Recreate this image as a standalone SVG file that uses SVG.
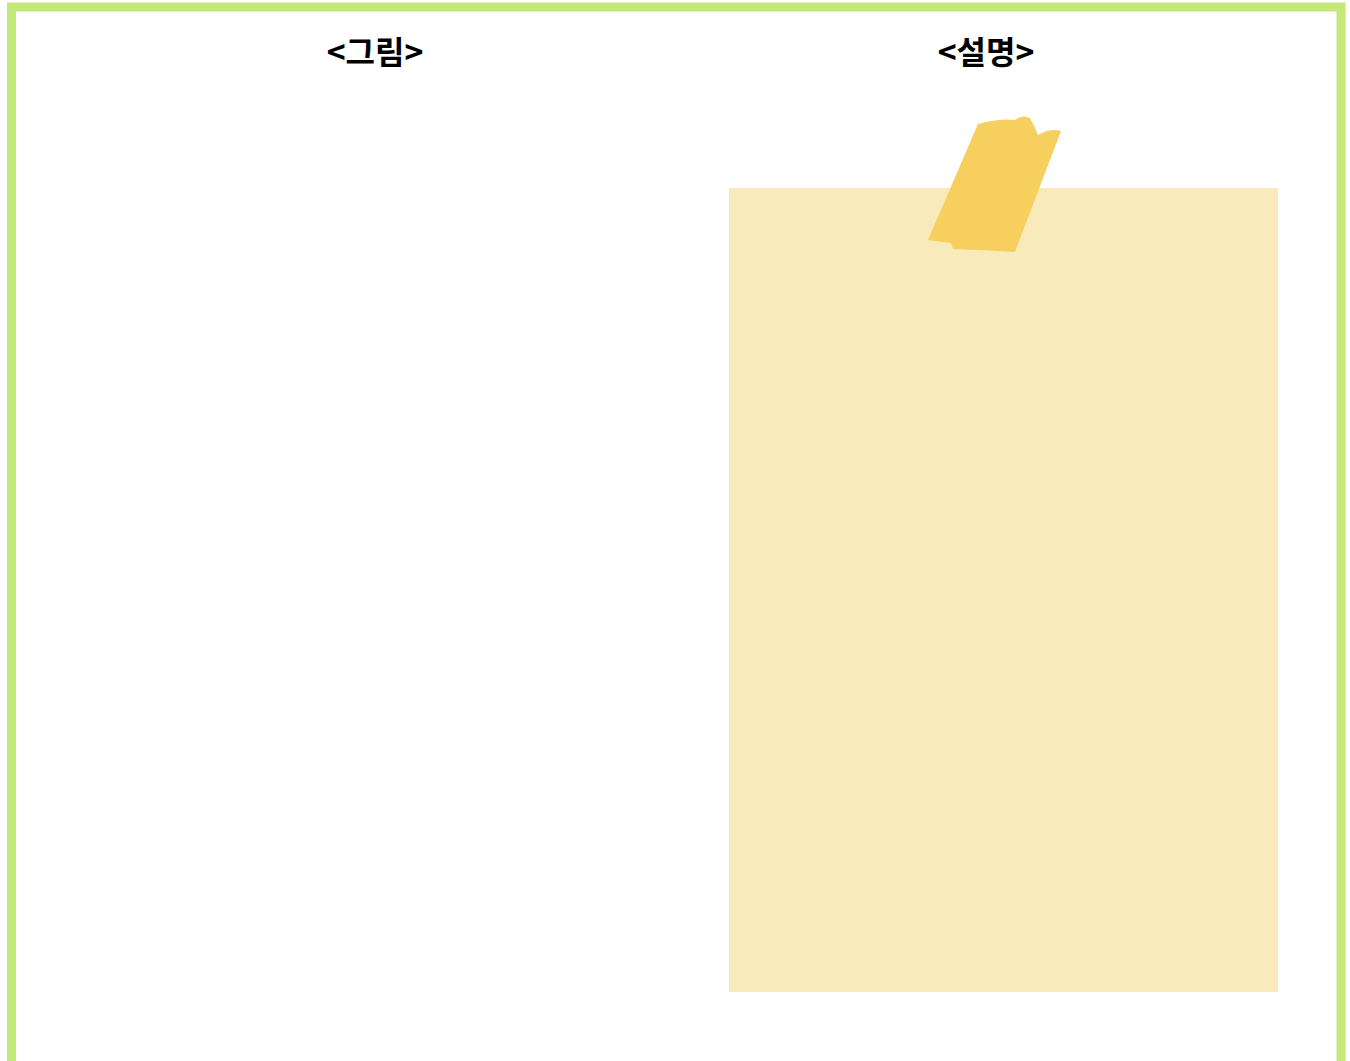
<svg xmlns="http://www.w3.org/2000/svg" width="1350" height="1061" viewBox="0 0 1350 1061">
<style>
.t{font-family:"Noto Sans CJK KR","Noto Sans",sans-serif;font-weight:bold;font-size:32px;fill:#000;text-anchor:middle}
</style>
<rect width="1350" height="1061" fill="#fff"/>
<g id="frame"><rect x="11.5" y="7" width="1329.5" height="1070" fill="none" stroke="#c5e87a" stroke-width="9"/></g>
<g id="title-left"><text class="t" x="375" y="64">&lt;그림&gt;</text></g>
<g id="title-right"><text class="t" x="986" y="64">&lt;설명&gt;</text></g>
<g id="note">
<rect x="729" y="188" width="549" height="804" fill="#f8eabb"/>
<path d="M978,124 Q1000,118 1015,120 Q1022,114 1030,118 Q1034,125 1038,135 Q1050,128 1061,131 L1015,252 Q985,250 953,249 L951,243 Q940,242 928,240 Z" fill="#f6cf5f"/>
</g>
<g id="connectors"></g>
</svg>
